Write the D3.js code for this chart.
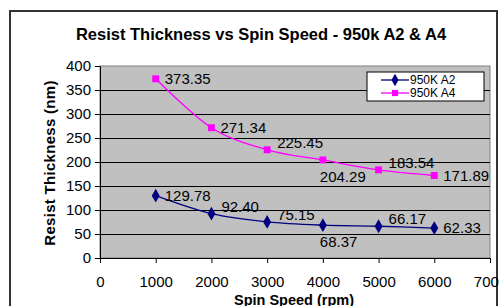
<!DOCTYPE html>
<meta charset="utf-8">
<head>
  <script src="https://d3js.org/d3.v7.min.js"></script>
  <style>
    body { margin: 0; background: #fff; font-family: 'Liberation Sans', Arial, sans-serif; }
  </style>
</head>
<body>
  <div id="my_dataviz"></div>
</body>
<script>
  const speeds = [1000, 2000, 3000, 4000, 5000, 6000]
  const a2 = [129.78, 92.40, 75.15, 68.37, 66.17, 62.33]
  const a4 = [373.35, 271.34, 225.45, 204.29, 183.54, 171.89]
  const a2_label_pos = ["right", "above", "above", "below", "above", "right"]
  const a4_label_pos = ["right", "right", "above", "below", "above", "right"]
  const x_ticks = [0, 1000, 2000, 3000, 4000, 5000, 6000, 7000]
  const y_ticks = [0, 50, 100, 150, 200, 250, 300, 350, 400]

  const W = 499, H = 306
  const margin = { top: 66, right: 9, bottom: 48, left: 100 },
    width = W - margin.left - margin.right,
    height = H - margin.top - margin.bottom;

  const root = d3.select("#my_dataviz").append("svg")
    .attr("width", W).attr("height", H)

  // chart border
  root.append("rect")
    .attr("x", 10).attr("y", 11).attr("width", 487).attr("height", 320)
    .attr("fill", "none").attr("stroke", "#333").attr("stroke-width", 2)

  root.append("text")
    .attr("x", 261).attr("y", 40)
    .attr("text-anchor", "middle")
    .attr("font-weight", "bold").attr("font-size", 16.5)
    .text("Resist Thickness vs Spin Speed - 950k A2 & A4")

  const svg = root.append("g")
    .attr("transform", "translate(" + margin.left + "," + margin.top + ")")

  const x = d3.scaleLinear().domain([0, 7000]).range([0, width])
  const y = d3.scaleLinear().domain([0, 400]).range([height, 0])

  svg.append("rect")
    .attr("width", width).attr("height", height)
    .attr("fill", "#c0c0c0").attr("stroke", "#808080")

  svg.append("g").selectAll("line")
    .data(y_ticks.slice(1, -1))
    .enter().append("line")
    .attr("x1", 0).attr("x2", width)
    .attr("y1", d => Math.round(y(d)) + 0.5).attr("y2", d => Math.round(y(d)) + 0.5)
    .attr("stroke", "#000")

  const xa = svg.append("g")
    .attr("transform", "translate(0," + height + ")")
    .call(d3.axisBottom(x).tickValues(x_ticks).tickFormat(d3.format("d"))
      .tickSize(5).tickPadding(13).tickSizeOuter(0))
  const ya = svg.append("g")
    .call(d3.axisLeft(y).tickValues(y_ticks).tickSize(5).tickPadding(4).tickSizeOuter(0))
  ;[xa, ya].forEach(a => {
    a.selectAll("text").attr("font-size", 15).attr("fill", "#000")
      .attr("font-family", "'Liberation Sans', Arial, sans-serif")
    a.select(".domain").attr("stroke", "#000")
    a.selectAll("line").attr("stroke", "#000")
  })

  root.append("text")
    .attr("x", 294).attr("y", 305)
    .attr("text-anchor", "middle")
    .attr("font-weight", "bold").attr("font-size", 14.5)
    .text("Spin Speed (rpm)")
  root.append("text")
    .attr("transform", "translate(55,163) rotate(-90)")
    .attr("text-anchor", "middle")
    .attr("font-weight", "bold").attr("font-size", 15)
    .attr("letter-spacing", 0.3)
    .text("Resist Thickness (nm)")

  const line = d3.line()
    .curve(d3.curveCatmullRom.alpha(0))
    .x(d => x(d[0]))
    .y(d => y(d[1]))

  const series = [
    { name: "950K A2", values: a2, pos: a2_label_pos, color: "#000080", symbol: d3.symbolDiamond, size: 55 },
    { name: "950K A4", values: a4, pos: a4_label_pos, color: "#ff00ff", symbol: d3.symbolSquare, size: 48 }
  ]

  series.forEach(s => {
    const pts = d3.zip(speeds, s.values)
    svg.append("path")
      .attr("d", line(pts))
      .attr("fill", "none")
      .attr("stroke", s.color)
      .attr("stroke-width", 1.3)
    svg.selectAll(null)
      .data(pts).enter().append("path")
      .attr("d", d3.symbol().type(s.symbol).size(s.size))
      .attr("transform", d => "translate(" + x(d[0]) + "," + y(d[1]) + ")")
      .attr("fill", s.color)
    svg.selectAll(null)
      .data(pts).enter().append("text")
      .attr("x", (d, i) => x(d[0]) + (s.pos[i] == "below" ? -3 : s.pos[i] == "above" ? 10 : 9))
      .attr("y", (d, i) => y(d[1]) + (s.pos[i] == "below" ? 17 : s.pos[i] == "above" ? -7 : 0))
      .attr("dy", "0.35em")
      .attr("font-size", 15)
      .text((d, i) => s.values[i].toFixed(2))
  })

  // legend
  const lg = root.append("g").attr("transform", "translate(367,72)")
  lg.append("rect").attr("width", 117).attr("height", 29)
    .attr("fill", "#fff").attr("stroke", "#000")
  series.forEach((s, i) => {
    const yy = 8 + i * 13
    lg.append("line").attr("x1", 14).attr("x2", 42).attr("y1", yy).attr("y2", yy)
      .attr("stroke", s.color).attr("stroke-width", 1.3)
    lg.append("path")
      .attr("d", d3.symbol().type(s.symbol).size(s.size * 0.8))
      .attr("transform", "translate(28," + yy + ")")
      .attr("fill", s.color)
    lg.append("text").attr("x", 43).attr("y", yy).attr("dy", "0.35em")
      .attr("font-size", 12).text(s.name)
  })
</script>
